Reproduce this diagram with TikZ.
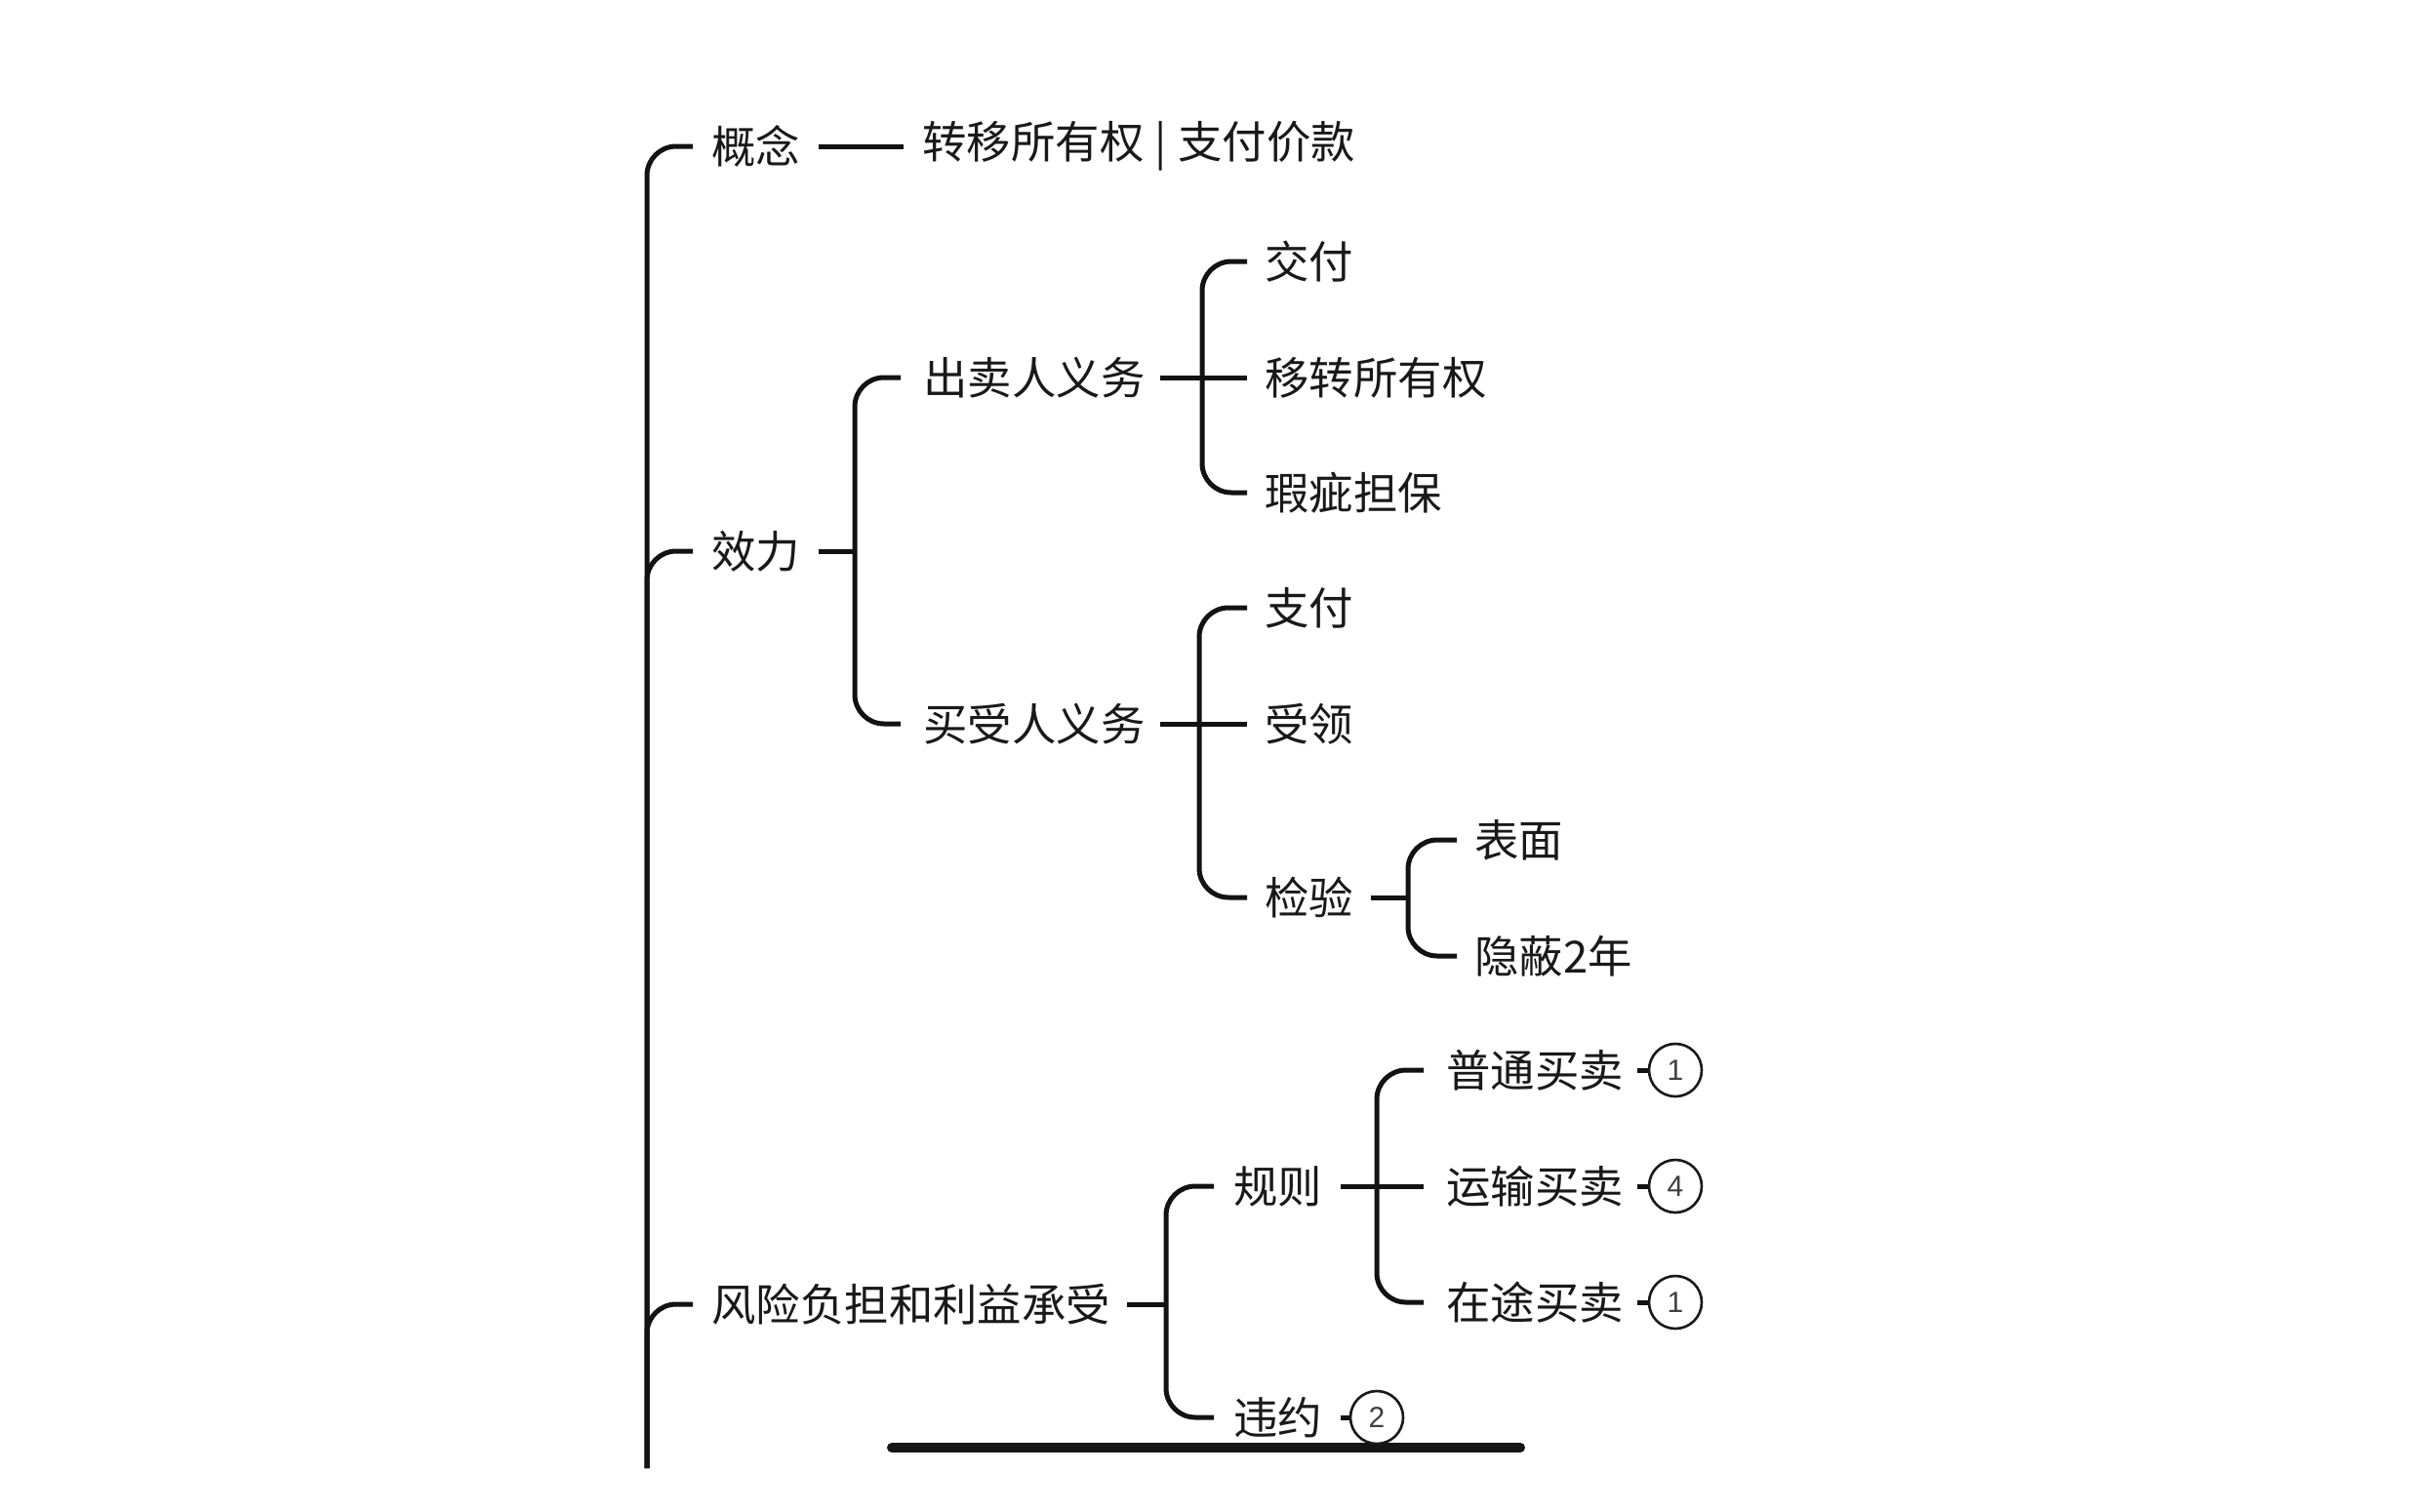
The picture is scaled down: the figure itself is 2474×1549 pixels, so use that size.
\documentclass[tikz,border=0pt]{standalone}
\usepackage{fontspec}
\newfontfamily\cjk{Noto Sans CJK SC}
\newfontfamily\numfont{Liberation Sans}
\begin{document}
\begin{tikzpicture}[x=0.5pt,y=-0.5pt,
  txt/.style={anchor=west, inner sep=0pt, font=\cjk\fontsize{22.7pt}{23pt}\selectfont, text=black!90},
  conn/.style={line width=2.5pt, draw=black!93, rounded corners=15pt},
  num/.style={circle, draw=black!90, line width=1.3pt, fill=white, minimum size=27pt, inner sep=0pt, font=\numfont\fontsize{15pt}{15pt}\selectfont, text=black!75}]
\useasboundingbox (0,0) rectangle (2474,1549);
\fill[white] (0,0) rectangle (2474,1549);

% bottom bar
\coordinate (b1) at (914,1484);
\coordinate (b2) at (1558,1484);
\draw[line width=5pt, line cap=round, draw=black!92] (b1) -- (b2);

% texts
\node[txt] (gn) at (729,150) {概念};
\node[txt] (gnd) at (945,150) {转移所有权\kern0.25em|\kern0.25em支付价款};
\node[txt] (xl) at (729,565) {效力};
\node[txt] (cm) at (946,387) {出卖人义务};
\node[txt] (mm) at (946,742) {买受人义务};
\node[txt] (jf) at (1296,268) {交付};
\node[txt] (yz) at (1296,387) {移转所有权};
\node[txt] (xc) at (1296,505) {瑕疵担保};
\node[txt] (zf) at (1296,623) {支付};
\node[txt] (sl) at (1296,742) {受领};
\node[txt] (jy) at (1296,920) {检验};
\node[txt] (bm) at (1511,861) {表面};
\node[txt] (yb) at (1511,980) {隐蔽2年};
\node[txt] (fx) at (729,1337) {风险负担和利益承受};
\node[txt] (gz) at (1264,1216) {规则};
\node[txt] (wy) at (1264,1453) {违约};
\node[txt] (pt) at (1482,1097) {普通买卖};
\node[txt] (ys) at (1482,1216) {运输买卖};
\node[txt] (zt) at (1482,1335) {在途买卖};

% junctions
\coordinate (root) at (663,1505);
\coordinate (j1) at (876,565);
\coordinate (j2) at (1232,387);
\coordinate (j3) at (1229,742);
\coordinate (j4) at (1443,920);
\coordinate (j5) at (1195,1337);
\coordinate (j6) at (1411,1216);

% main branches
\draw[conn] (root) |- ([xshift=-9.5pt]gn.west);
\draw[conn] (root) |- ([xshift=-9.5pt]xl.west);
\draw[conn] (root) |- ([xshift=-9.5pt]fx.west);

% concept
\draw[conn] ([xshift=9pt]gn.east) -- ([xshift=-9.5pt]gnd.west);

% effect
\draw[conn] ([xshift=9pt]xl.east) -- (j1);
\draw[conn] (j1) |- ([xshift=-11.5pt]cm.west);
\draw[conn] (j1) |- ([xshift=-11.5pt]mm.west);

% seller duties
\draw[conn] ([xshift=7.5pt]cm.east) -- ([xshift=-9pt]yz.west);
\draw[conn] (j2) |- ([xshift=-9pt]jf.west);
\draw[conn] (j2) |- ([xshift=-9pt]xc.west);

% buyer duties
\draw[conn] ([xshift=7.5pt]mm.east) -- ([xshift=-9pt]sl.west);
\draw[conn] (j3) |- ([xshift=-9pt]zf.west);
\draw[conn] (j3) |- ([xshift=-9pt]jy.west);

% inspection
\draw[conn] ([xshift=8.5pt]jy.east) -- (j4);
\draw[conn] (j4) |- ([xshift=-9pt]bm.west);
\draw[conn] (j4) |- ([xshift=-9pt]yb.west);

% risk
\draw[conn] ([xshift=8.5pt]fx.east) -- (j5);
\draw[conn] (j5) |- ([xshift=-10pt]gz.west);
\draw[conn] (j5) |- ([xshift=-10pt]wy.west);

% rules
\draw[conn] ([xshift=9pt]gz.east) -- ([xshift=-11.5pt]ys.west);
\draw[conn] (j6) |- ([xshift=-11.5pt]pt.west);
\draw[conn] (j6) |- ([xshift=-11.5pt]zt.west);

% numbered circles
\node[num] (n1) at (1717,1097) {1};
\node[num] (n4) at (1717,1216) {4};
\node[num] (n1b) at (1717,1335) {1};
\node[num] (n2) at (1411,1453) {2};
\draw[conn] ([xshift=7pt]pt.east) -- (n1.west);
\draw[conn] ([xshift=7pt]ys.east) -- (n4.west);
\draw[conn] ([xshift=7pt]zt.east) -- (n1b.west);
\draw[conn] ([xshift=9pt]wy.east) -- (n2.west);
\end{tikzpicture}
\end{document}
